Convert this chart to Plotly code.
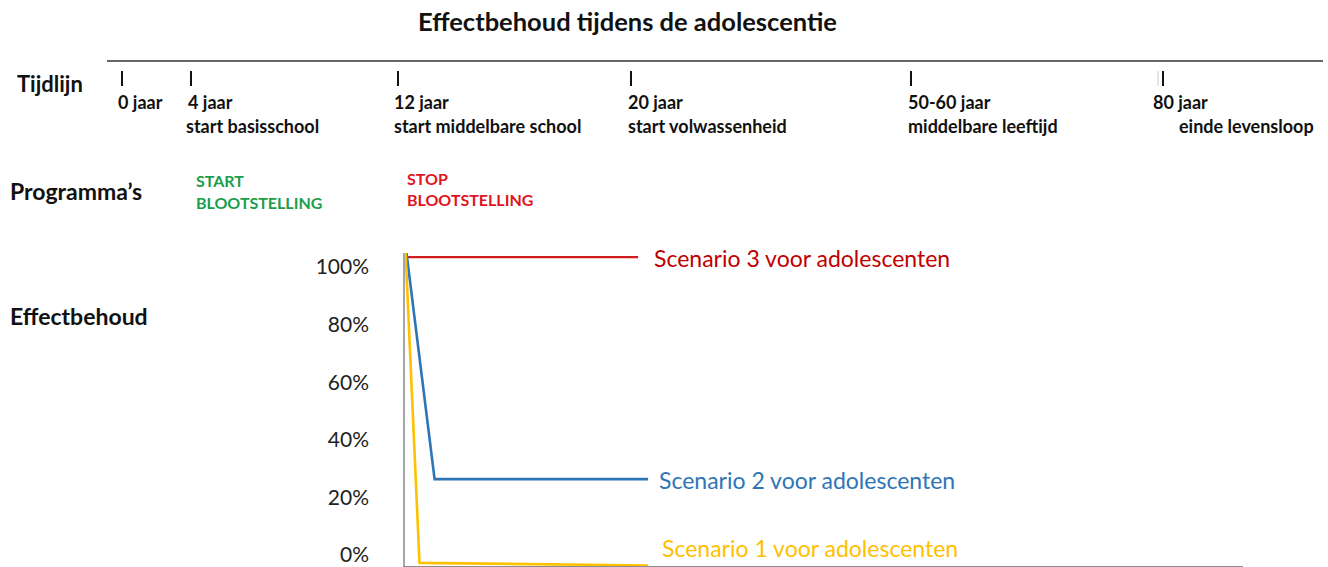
import plotly.graph_objects as go

# ---- data (age in years vs. retained effect in %) ----
red_x = [12.0, 19.67]
red_y = [104.5, 104.5]
blue_x = [12.0, 12.93, 20.0]
blue_y = [105.9, 27.4, 27.4]
yellow_x = [11.97, 12.43, 20.0]
yellow_y = [105.9, -1.7, -2.6]

y_ticks = [0, 20, 40, 60, 80, 100]
y_tick_labels = ["0%", "20%", "40%", "60%", "80%", "100%"]

timeline_ages = ["0 jaar", "4 jaar", "12 jaar", "20 jaar", "50-60 jaar", "80 jaar"]
timeline_phases = ["", "start basisschool", "start middelbare school",
                   "start volwassenheid", "middelbare leeftijd", "einde levensloop"]

scenario_names = ["Scenario 3 voor adolescenten", "Scenario 2 voor adolescenten",
                  "Scenario 1 voor adolescenten"]

# ---- layout geometry ----
W, H = 1328, 567
L, R, T, B = 405, 1243, 253, 566
FONT = "Lato"


def px(x):
    return (x - L) / (R - L)


def py(y):
    return (B - y) / (B - T)


RED = "#c00000"
BLUE = "#2e75b6"
GOLD = "#ffc000"

fig = go.Figure()
fig.add_trace(go.Scatter(x=red_x, y=red_y, mode="lines", line=dict(color="#d01e1e", width=2.2),
                         name=scenario_names[0], showlegend=False))
fig.add_trace(go.Scatter(x=blue_x, y=blue_y, mode="lines", line=dict(color=BLUE, width=2.6),
                         name=scenario_names[1], showlegend=False))
fig.add_trace(go.Scatter(x=yellow_x, y=yellow_y, mode="lines", line=dict(color=GOLD, width=2.6),
                         name=scenario_names[2], showlegend=False))

ann = []


def text(x, y, s, size, color="#111111", bold=True, xanchor="left"):
    ann.append(dict(x=px(x), y=py(y), xref="paper", yref="paper", text=(f"<b>{s}</b>" if bold else s),
                    showarrow=False, xanchor=xanchor, yanchor="middle",
                    font=dict(family=FONT, size=size, color=color)))


text(627, 21, "Effectbehoud tijdens de adolescentie", 25.5, xanchor="center")
text(15, 83, "Tijdlijn", 22)
text(8, 191, "Programma’s", 23)
text(8, 316, "Effectbehoud", 23)

age_x = [116, 186, 392, 626, 906, 1151]
phase_x = [0, 184, 392, 626, 906, 1177]
tick_x = [122, 191, 398, 631, 911, 1163]
for i, a in enumerate(timeline_ages):
    text(age_x[i], 102, a, 18)
    if timeline_phases[i]:
        text(phase_x[i], 126, timeline_phases[i], 18)

text(194, 180, "START", 16, color="#1a9e4b")
text(194, 202, "BLOOTSTELLING", 16, color="#1a9e4b")
text(405, 178, "STOP", 16, color="#e0141e")
text(405, 200, "BLOOTSTELLING", 16, color="#e0141e")

text(652, 258, scenario_names[0], 23, color=RED, bold=False)
text(657, 480, scenario_names[1], 23, color=BLUE, bold=False)
text(660, 548, scenario_names[2], 23, color=GOLD, bold=False)

shapes = [dict(type="line", xref="paper", yref="paper", x0=px(107), x1=px(1323), y0=py(61), y1=py(61),
               line=dict(color="#333333", width=1.5))]
for tx in tick_x:
    shapes.append(dict(type="line", xref="paper", yref="paper", x0=px(tx), x1=px(tx), y0=py(71), y1=py(86),
                       line=dict(color="#111111", width=2)))
shapes.append(dict(type="line", xref="paper", yref="paper", x0=px(1158), x1=px(1158), y0=py(71), y1=py(86),
                   line=dict(color="#dddddd", width=1.5)))

fig.update_layout(
    width=W, height=H,
    margin=dict(l=L, r=W - R, t=T, b=H - B, pad=0),
    paper_bgcolor="white", plot_bgcolor="white",
    annotations=ann, shapes=shapes,
    showlegend=False,
)
fig.update_xaxes(range=[11.95, 39.7], showgrid=False, zeroline=False, showticklabels=False,
                 showline=True, linecolor="#8c8c8c", linewidth=1.5, ticks="", automargin=False)
fig.update_yaxes(range=[-2.78, 105.9], showgrid=False, zeroline=False, tickvals=y_ticks,
                 ticktext=y_tick_labels, showline=True, linecolor="#a6a6a6", linewidth=1.5, ticks="",
                 ticklabelstandoff=30, ticklabelshift=-3, ticklabeloverflow="allow",
                 tickfont=dict(family=FONT, size=21, color="#222222"),
                 automargin=False)

fig.write_html("out.html", config={"displayModeBar": False},
               post_script="document.body.style.margin='0';document.body.style.overflow='hidden';")
